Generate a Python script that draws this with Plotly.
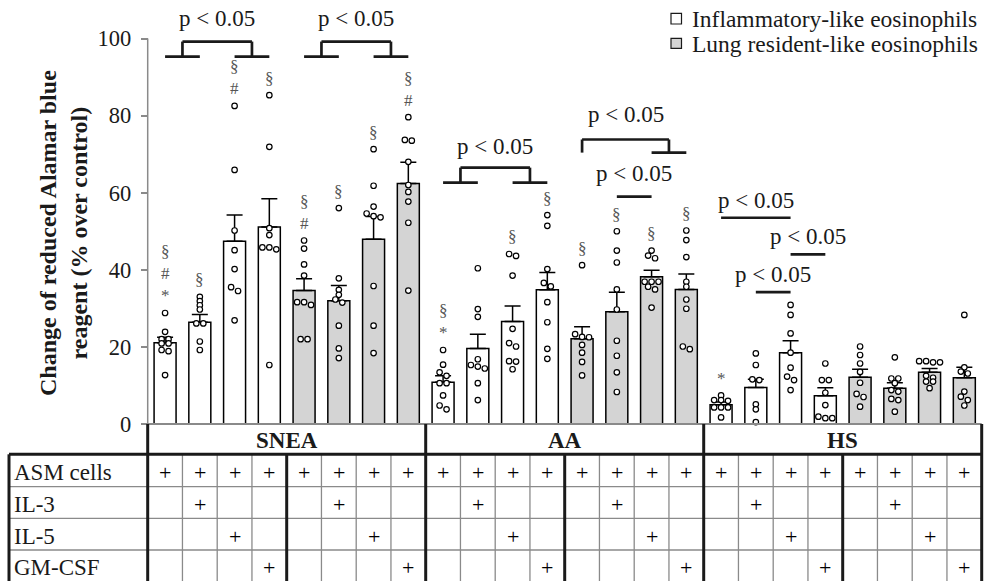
import plotly.graph_objects as go

FONT = "Liberation Serif, Times New Roman, Times, serif"
W, H = 985, 581

# ---------------- data ----------------
groups = ["SNEA", "AA", "HS"]
eos_types = ["Inflammatory-like eosinophils", "Lung resident-like eosinophils"]
row_labels = ["ASM cells", "IL-3", "IL-5", "GM-CSF"]
treatments = ["ASM", "IL-3", "IL-5", "GM-CSF"]   # per bar inside each eosinophil block

# bar order: group -> eosinophil type -> treatment  (24 bars)
means = [21.1, 26.4, 47.4, 51.1, 34.6, 32.0, 47.9, 62.4,
         10.8, 19.6, 26.6, 34.8, 22.1, 29.1, 38.2, 34.9,
         5.0, 9.5, 18.5, 7.3, 12.1, 9.3, 13.4, 12.0]
sems = [1.4, 2.0, 6.8, 7.3, 3.1, 3.9, 5.9, 5.5,
        1.7, 3.7, 4.0, 4.5, 3.1, 5.1, 1.7, 4.0,
        0.7, 2.1, 3.1, 2.1, 2.1, 1.4, 1.0, 2.7]
dots = [
    [28.8, 23.9, 22.0, 22.0, 20.9, 20.9, 19.2, 18.9, 12.7],
    [33.0, 31.9, 30.8, 29.7, 26.1, 26.1, 21.4, 19.2],
    [82.5, 65.9, 50.2, 45.1, 40.2, 35.5, 34.5, 26.9],
    [85.3, 71.9, 50.8, 49.0, 45.8, 45.8, 45.3, 15.3],
    [47.6, 45.5, 41.4, 38.5, 31.6, 31.6, 30.9, 22.0, 22.0],
    [56.0, 37.8, 34.8, 33.5, 32.3, 31.5, 25.5, 19.6, 17.1],
    [71.3, 61.8, 56.4, 54.6, 53.9, 53.6, 35.8, 25.5, 18.4],
    [79.6, 73.7, 73.5, 68.0, 62.0, 60.2, 57.7, 52.2, 34.6],
    [19.2, 15.4, 13.4, 12.5, 10.6, 10.6, 7.4, 4.8, 3.8],
    [40.4, 29.8, 27.8, 16.8, 15.3, 14.9, 14.4, 10.6, 6.2],
    [44.1, 43.6, 38.5, 24.7, 21.0, 20.1, 16.3, 16.2, 14.2],
    [54.2, 51.4, 40.2, 36.6, 35.7, 31.6, 26.4, 19.5, 16.9],
    [41.2, 23.3, 22.6, 22.5, 20.5, 18.5, 16.1, 12.6],
    [50.0, 45.0, 41.9, 34.9, 29.7, 21.6, 17.7, 13.4, 8.3],
    [45.0, 43.7, 43.0, 36.9, 36.9, 36.9, 35.6, 34.9, 30.2],
    [50.2, 47.7, 43.3, 36.9, 35.6, 32.3, 29.9, 20.1, 19.4],
    [7.4, 6.2, 6.2, 6.0, 4.3, 4.3, 4.3, 1.7],
    [18.3, 15.3, 11.6, 11.4, 5.1, 3.8, 0.5],
    [30.9, 28.3, 23.5, 18.5, 14.6, 12.3, 11.4, 8.8],
    [15.7, 11.4, 11.4, 8.1, 4.9, 1.9, 1.5, 1.5],
    [20.1, 17.9, 15.7, 13.5, 10.7, 7.8, 7.0, 4.5],
    [17.3, 11.8, 11.8, 10.6, 8.8, 8.4, 6.5, 6.2, 3.2],
    [16.3, 16.3, 16.0, 16.0, 12.5, 12.0, 11.0, 11.0, 9.3],
    [28.3, 14.7, 13.6, 13.1, 8.4, 7.1, 6.2, 4.8],
]
symbols = ["§#*", "§", "§#", "§", "§#", "§", "§", "§#",
           "§*", "", "§", "§", "§", "§", "§", "§",
           "*", "", "", "", "", "", "", ""]

# significance brackets: (left bars, right bars, top level, foot level, label baseline)
brackets = [
    ([0, 1], [2, 3], 99.2, 95.3, 103.1),
    ([4, 5], [6, 7], 99.2, 95.3, 103.1),
    ([8, 9], [10, 11], 66.5, 62.6, 69.8),
    ([12], [14, 15], 73.8, 70.4, 78.0),
]
# simple lines: (from bar, to bar, level, label baseline)
sig_lines = [
    (13, 14, 59.0, 62.8),
    (16, 18, 53.5, 55.8),
    (18, 19, 44.0, 46.4),
    (17, 18, 34.2, 36.5),
]
p_text = "p &lt; 0.05"

# ---------------- geometry helpers (pixel layout) ----------------
PX_AX, CW = 147.7, 34.75      # pixel of x=-0.5 and column width
PY0, PPU = 424.0, 3.855       # pixel of y=0 and pixels per unit


def xd(px):
    return (px - PX_AX) / CW - 0.5


def yd(py):
    return (PY0 - py) / PPU


XMIN, XMAX = xd(0), xd(W)
YMIN, YMAX = yd(H), yd(0)
U = 1.0 / PPU                  # one pixel in y units

n_bars = len(means)
eos_of = [(i // 4) % 2 for i in range(n_bars)]
treat_of = [i % 4 for i in range(n_bars)]


def swarm(vals, thr=1.05, step=0.2):
    order = sorted(range(len(vals)), key=lambda k: -vals[k])
    clusters = []
    for k in order:
        if clusters and vals[clusters[-1][0]] - vals[k] < thr:
            clusters[-1].append(k)
        else:
            clusters.append([k])
    off = [0.0] * len(vals)
    for c in clusters:
        m = len(c)
        for j, k in enumerate(c):
            off[k] = (j - (m - 1) / 2) * step
    return off


fig = go.Figure()

fills = ["white", "#d4d4d4"]
for e in range(2):
    idx = [i for i in range(n_bars) if eos_of[i] == e]
    fig.add_trace(go.Bar(
        x=idx, y=[means[i] for i in idx], width=0.633,
        marker=dict(color=fills[e], line=dict(color="black", width=1.5)),
        error_y=dict(type="data", array=[sems[i] for i in idx],
                     arrayminus=[0] * len(idx), symmetric=False,
                     color="black", thickness=1.5, width=8),
        name=eos_types[e], showlegend=False,
    ))

dx, dy = [], []
for i in range(n_bars):
    off = swarm(dots[i])
    for v, o in zip(dots[i], off):
        dx.append(i + o)
        dy.append(v)
fig.add_trace(go.Scatter(
    x=dx, y=dy, mode="markers", showlegend=False, cliponaxis=False,
    marker=dict(symbol="circle", size=5.5, color="white",
                line=dict(color="black", width=1.2)),
))

shapes = []
ann = []

# axes lines
shapes.append(dict(type="line", x0=-0.5, x1=-0.5, y0=0, y1=100,
                   line=dict(color="#8a8a8a", width=1.5)))
shapes.append(dict(type="line", x0=-0.5, x1=n_bars - 0.5, y0=0, y1=0,
                   line=dict(color="#8a8a8a", width=2)))

# symbols above bars
for i, s in enumerate(symbols):
    if not s:
        continue
    ann.append(dict(x=i, y=max(dots[i]) + 5.5 * U, text="<br>".join(list(s)),
                    showarrow=False, xanchor="center", yanchor="bottom",
                    font=dict(family=FONT, size=17, color="#555555")))

# significance brackets
BL = dict(color="#1a1a1a", width=2.7)
for left, right, top, foot, base in brackets:
    lx = (left[0] + left[-1]) / 2
    rx = (right[0] + right[-1]) / 2
    shapes.append(dict(type="line", x0=lx, x1=rx, y0=top, y1=top, line=BL))
    for side, cx in ((left, lx), (right, rx)):
        shapes.append(dict(type="line", x0=cx, x1=cx, y0=top, y1=foot, line=BL))
        if len(side) > 1:
            shapes.append(dict(type="line", x0=side[0], x1=side[-1],
                               y0=foot, y1=foot, line=BL))
    ann.append(dict(x=(lx + rx) / 2, y=base - 6 * U, text=p_text, showarrow=False,
                    xanchor="center", yanchor="bottom",
                    font=dict(family=FONT, size=23, color="#1a1a1a")))
for a, b, lvl, base in sig_lines:
    shapes.append(dict(type="line", x0=a, x1=b, y0=lvl, y1=lvl, line=BL))
    ann.append(dict(x=(a + b) / 2, y=base - 6 * U, text=p_text, showarrow=False,
                    xanchor="center", yanchor="bottom",
                    font=dict(family=FONT, size=23, color="#1a1a1a")))

# ---------------- table below the axis ----------------
row_py = [424.0, 454.3, 486.7, 518.3, 550.0, 581.0]
row_y = [yd(p) for p in row_py]
LEFT_X = xd(9)
THICK = dict(color="#1a1a1a", width=3)
THIN = dict(color="#8a8a8a", width=1.3)

for r in (2, 3, 4):
    shapes.append(dict(type="line", x0=LEFT_X, x1=n_bars - 0.5,
                       y0=row_y[r], y1=row_y[r], line=THIN))
for k in range(1, n_bars):
    xb = k - 0.5
    if k % 8 == 0:
        shapes.append(dict(type="line", x0=xb, x1=xb, y0=0, y1=YMIN, line=THICK))
    elif k % 4 == 0:
        shapes.append(dict(type="line", x0=xb, x1=xb, y0=row_y[1], y1=YMIN, line=THICK))
    else:
        shapes.append(dict(type="line", x0=xb, x1=xb, y0=row_y[1], y1=YMIN, line=THIN))
for xb in (-0.5, n_bars - 0.5):
    shapes.append(dict(type="line", x0=xb, x1=xb, y0=0, y1=YMIN, line=THICK))
shapes.append(dict(type="line", x0=LEFT_X, x1=LEFT_X, y0=row_y[1], y1=YMIN, line=THICK))
shapes.append(dict(type="line", x0=LEFT_X, x1=n_bars - 0.5,
                   y0=row_y[1], y1=row_y[1], line=THICK))

for g, name in enumerate(groups):
    ann.append(dict(x=g * 8 + 3.5, y=(row_y[0] + row_y[1]) / 2 - 1 * U,
                    text="<b>%s</b>" % name, showarrow=False,
                    xanchor="center", yanchor="middle",
                    font=dict(family=FONT, size=23, color="#1a1a1a")))

for r, lab in enumerate(row_labels):
    yc = (row_y[r + 1] + row_y[r + 2]) / 2 - 2 * U
    ann.append(dict(x=xd(12), y=yc, text=lab, showarrow=False,
                    xanchor="left", yanchor="middle",
                    font=dict(family=FONT, size=23, color="#1a1a1a")))
    for i in range(n_bars):
        has = (r == 0) or (treat_of[i] == r)
        if has:
            ann.append(dict(x=i, y=yc, text="+", showarrow=False,
                            xanchor="center", yanchor="middle",
                            font=dict(family=FONT, size=22, color="black")))

# ---------------- legend (drawn) ----------------
leg_rows = [(13.3, 24.0, 28.3), (38.3, 48.3, 53.3)]
for e, (t, b, base) in enumerate(leg_rows):
    shapes.append(dict(type="rect", x0=xd(671), x1=xd(681.5), y0=yd(b), y1=yd(t),
                       fillcolor=fills[e], line=dict(color="#1a1a1a", width=1.2)))
    ann.append(dict(x=xd(690), y=yd(base + 6), text=eos_types[e], showarrow=False,
                    xanchor="left", yanchor="bottom",
                    font=dict(family=FONT, size=23.5, color="#1a1a1a")))

# y axis title
ann.append(dict(x=xd(63), y=yd(233),
                text="<b>Change of reduced Alamar blue<br>reagent (% over control)</b>",
                textangle=-90, showarrow=False, xanchor="center", yanchor="middle",
                font=dict(family=FONT, size=24, color="#1a1a1a")))

fig.update_layout(
    width=W, height=H, margin=dict(l=0, r=0, t=0, b=0),
    paper_bgcolor="white", plot_bgcolor="white",
    barmode="overlay", showlegend=False,
    shapes=shapes, annotations=ann,
    xaxis=dict(range=[XMIN, XMAX], visible=False, fixedrange=True),
    yaxis=dict(range=[YMIN, YMAX], anchor="free",
               position=(-0.5 - XMIN) / (XMAX - XMIN),
               tickvals=[0, 20, 40, 60, 80, 100], ticks="outside",
               ticklen=7, tickwidth=1.5, tickcolor="#8a8a8a",
               showgrid=False, zeroline=False, showline=False,
               ticklabelstandoff=5,
               tickfont=dict(family=FONT, size=22.5, color="#1a1a1a")),
)

fig.write_html("out.html")
